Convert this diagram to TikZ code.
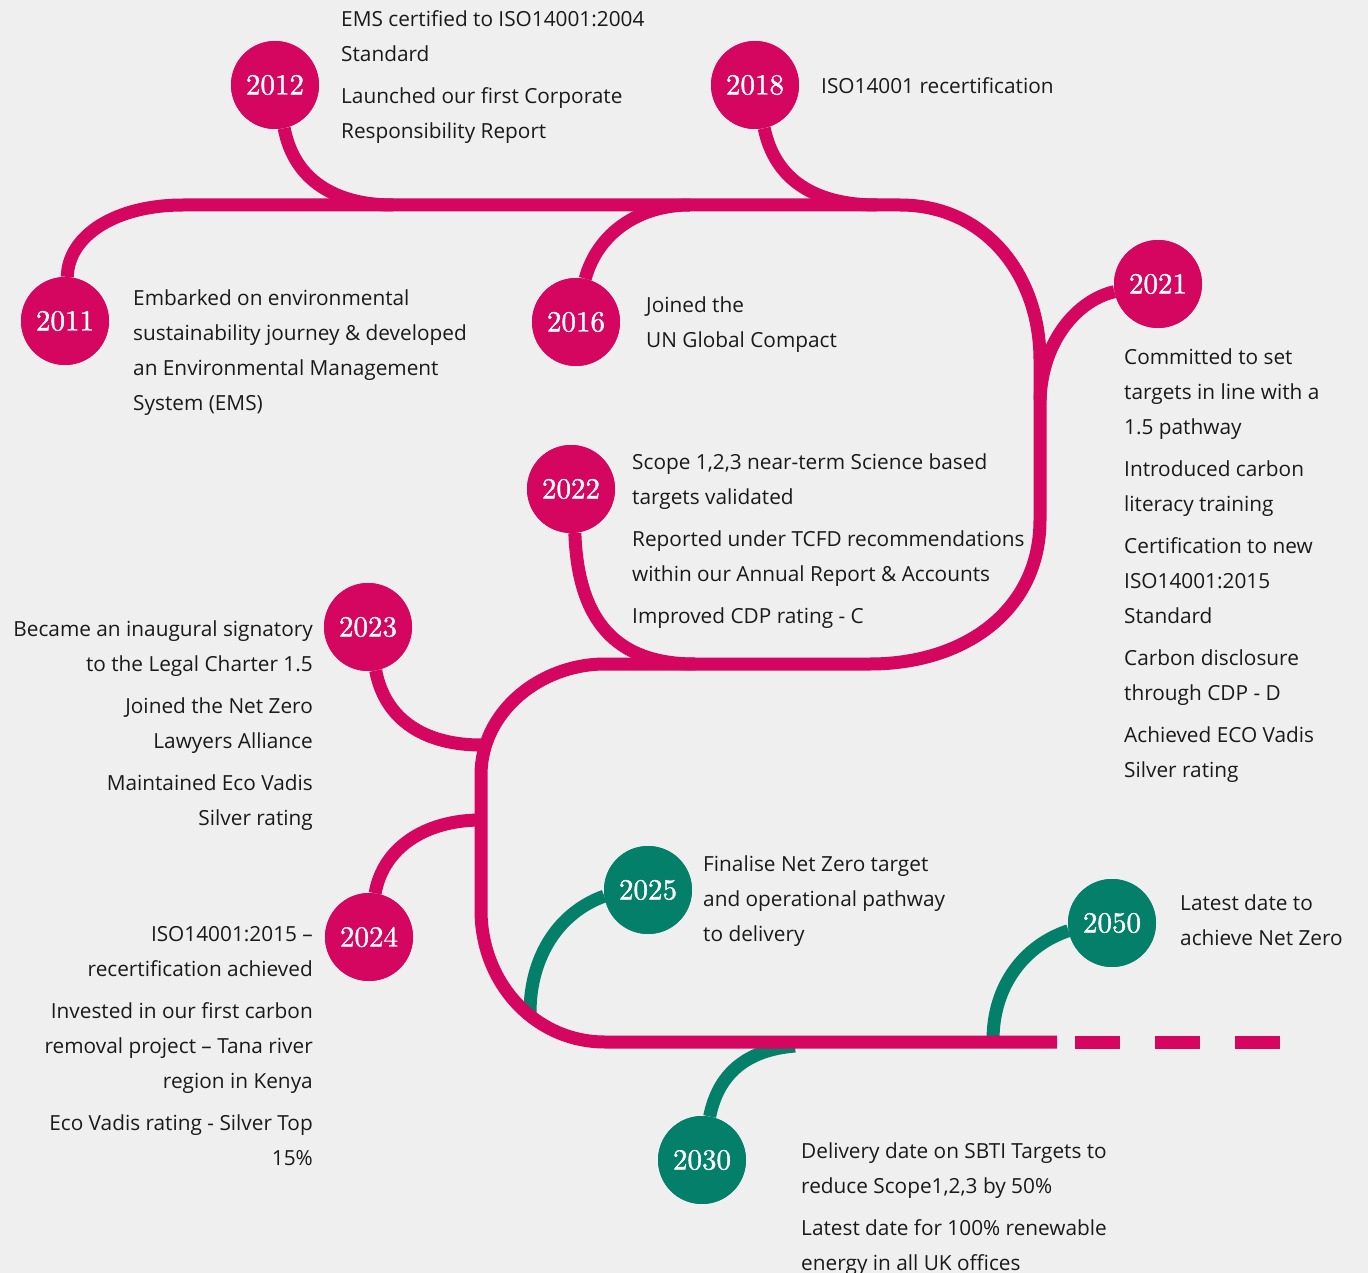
\documentclass[tikz,border=0pt]{standalone}
\usepackage{fontspec}
\newfontfamily\bodyfont{Open Sans}
\newfontfamily\yearfont{lmroman10-regular.otf}[FakeBold=1.2]
\definecolor{tlmagenta}{HTML}{D50660}
\definecolor{tlgreen}{HTML}{04806A}
\definecolor{paper}{HTML}{EFEFEF}
\definecolor{ink}{HTML}{1A1A1A}
\begin{document}
\begin{tikzpicture}[x=1pt,y=-1pt,
    trunk/.style={tlmagenta, line width=13pt},
    twig/.style={line width=13pt},
    yearnode/.style={circle, minimum size=88pt, inner sep=0pt, text=white, font=\yearfont\fontsize{29}{29}\selectfont},
    txt/.style={inner sep=0pt, text=ink, font=\bodyfont\fontsize{20.8}{35}\selectfont, execute at begin node=\strut}]
    \fill[paper] (0,0) rectangle (1368,1273);
    \useasboundingbox (0,0) rectangle (1368,1273);
    % year circles
    \foreach \yr/\x/\y/\c in {2011/65/321/tlmagenta, 2012/275/85/tlmagenta, 2016/576/322/tlmagenta,
        2018/755/85/tlmagenta, 2021/1158/284/tlmagenta, 2022/571/489/tlmagenta, 2023/368/627/tlmagenta,
        2024/369/937/tlmagenta, 2025/648/890/tlgreen, 2050/1112/923/tlgreen, 2030/702/1160/tlgreen}
        \path (\x,\y) node[yearnode, fill=\c] (y\yr) {\yr};
    % joints on the line
    \coordinate (j2012) at (393,205);
    \coordinate (j2016) at (690,205);
    \coordinate (j2018) at (877,205);
    \coordinate (j2021) at (1040,400);
    \coordinate (j2022) at (695,664);
    \coordinate (j2023) at (481,745);
    \coordinate (j2024) at (481,820);
    \coordinate (j2025) at (530,1013);
    \coordinate (j2050) at (993,1040);
    \coordinate (j2030) at (795,1046);
    \coordinate (tail) at (1057,1042);
    % green twigs go under the line
    \draw[twig, tlgreen] (y2025.188) .. controls (560,912) and (530,955) .. (j2025);
    \draw[twig, tlgreen] (y2050.190) .. controls (1025,945) and (993,985) .. (j2050);
    \draw[twig, tlgreen] (y2030.80) .. controls (718,1075) and (745,1050) .. (j2030);
    \draw[trunk] (y2011.87) .. controls (68,236) and (115,205) .. (183,205) -- (900,205)
        .. controls (985,205) and (1040,275) .. (1040,360) -- (1040,520)
        .. controls (1040,610) and (965,664) .. (870,664) -- (605,664)
        .. controls (540,664) and (481,712) .. (481,775) -- (481,910)
        .. controls (481,983) and (535,1042) .. (605,1042) -- (tail);
    \draw[trunk, dash pattern=on 45pt off 35pt] (1075,1042) -- (1280,1042);
    \draw[twig, tlmagenta] (y2012.-78) .. controls (294,180) and (335,205) .. (j2012);
    \draw[twig, tlmagenta] (y2018.-78) .. controls (775,180) and (815,205) .. (j2018);
    \draw[twig, tlmagenta] (y2016.78) .. controls (598,232) and (640,205) .. (j2016);
    \draw[twig, tlmagenta] (y2021.190) .. controls (1078,300) and (1042,340) .. (j2021);
    \draw[twig, tlmagenta] (y2022.-85) .. controls (578,620) and (615,664) .. (j2022);
    \draw[twig, tlmagenta] (y2023.-80) .. controls (385,720) and (425,745) .. (j2023);
    \draw[twig, tlmagenta] (y2024.82) .. controls (383,848) and (425,820) .. (j2024);
    % circles again on top
    \foreach \yr/\c in {2011/tlmagenta, 2012/tlmagenta, 2016/tlmagenta, 2018/tlmagenta, 2021/tlmagenta,
        2022/tlmagenta, 2023/tlmagenta, 2024/tlmagenta, 2025/tlgreen, 2050/tlgreen, 2030/tlgreen}
        \node[yearnode, fill=\c] at (y\yr) {\yr};
    % texts
    \node[txt, align=left, anchor=north west] (t2012) at (341,10) {EMS certified to ISO14001:2004\\Standard\\[7pt]Launched our first Corporate\\Responsibility Report};
    \node[txt, align=left, anchor=north west] (t2018) at (821,68.5) {ISO14001 recertification};
    \node[txt, align=left, anchor=north west] (t2011) at (133,289) {Embarked on environmental\\sustainability journey \& developed\\an Environmental Management\\System (EMS)};
    \node[txt, align=left, anchor=north west] (t2016) at (646,296) {Joined the\\UN Global Compact};
    \node[txt, align=left, anchor=north west] (t2021) at (1124,348) {Committed to set\\targets in line with a\\1.5 pathway\\[7pt]Introduced carbon\\literacy training\\[7pt]Certification to new\\ISO14001:2015\\Standard\\[7pt]Carbon disclosure\\through CDP - D\\[7pt]Achieved ECO Vadis\\Silver rating};
    \node[txt, align=left, anchor=north west] (t2022) at (632,453) {Scope 1,2,3 near-term Science based\\targets validated\\[7pt]Reported under TCFD recommendations\\within our Annual Report \& Accounts\\[7pt]Improved CDP rating - C};
    \node[txt, align=right, anchor=north east] (t2023) at (313,620) {Became an inaugural signatory\\to the Legal Charter 1.5\\[7pt]Joined the Net Zero\\Lawyers Alliance\\[7pt]Maintained Eco Vadis\\Silver rating};
    \node[txt, align=right, anchor=north east] (t2024) at (313,926) {ISO14001:2015 –\\recertification achieved\\[7pt]Invested in our first carbon\\removal project – Tana river\\region in Kenya\\[7pt]Eco Vadis rating - Silver Top\\15\%};
    \node[txt, align=left, anchor=north west] (t2025) at (703,855) {Finalise Net Zero target\\and operational pathway\\to delivery};
    \node[txt, align=left, anchor=north west] (t2050) at (1180,894) {Latest date to\\achieve Net Zero};
    \node[txt, align=left, anchor=north west] (t2030) at (801,1142) {Delivery date on SBTI Targets to\\reduce Scope1,2,3 by 50\%\\[7pt]Latest date for 100\% renewable\\energy in all UK offices};
\end{tikzpicture}
\end{document}
